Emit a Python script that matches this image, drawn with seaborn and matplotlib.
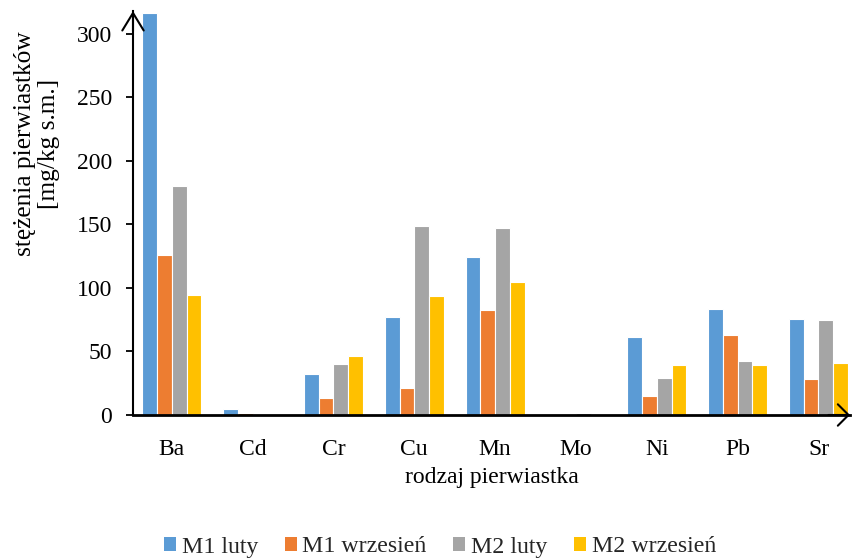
import matplotlib
matplotlib.use("Agg")
import matplotlib.pyplot as plt
import seaborn as sns
import pandas as pd
from matplotlib.patches import Patch

# Element concentrations per sampling point and month
elements = ["Ba", "Cd", "Cr", "Cu", "Mn", "Mo", "Ni", "Pb", "Sr"]
m1_luty = [316.5, 4.5, 32.5, 77.5, 124.5, 0.0, 61.5, 83.5, 75.5]
m1_wrzesien = [126.0, 1.3, 13.2, 21.5, 82.8, 0.0, 15.2, 63.2, 28.2]
m2_luty = [180.0, 0.6, 40.0, 148.5, 146.8, 1.6, 29.0, 42.5, 75.0]
m2_wrzesien = [94.7, 0.2, 46.8, 93.8, 104.5, 0.0, 39.0, 39.0, 40.8]

series_names = ["M1 luty", "M1 wrzesień", "M2 luty", "M2 wrzesień"]
series_values = [m1_luty, m1_wrzesien, m2_luty, m2_wrzesien]
colors = ["#5B9BD5", "#ED7D31", "#A5A5A5", "#FFC000"]

y_ticks = [0, 50, 100, 150, 200, 250, 300]

rows = []
for name, vals in zip(series_names, series_values):
    for el, v in zip(elements, vals):
        rows.append({"element": el, "seria": name, "value": v})
df = pd.DataFrame(rows)

sns.set_theme(style="white")
plt.rcParams["font.family"] = ["Liberation Serif", "DejaVu Serif"]

W, H = 853, 560
fig = plt.figure(figsize=(W / 100, H / 100), dpi=100)
ax_left, ax_right, ax_top, ax_bottom = 133, 850, 11, 415
ax = fig.add_axes([ax_left / W, (H - ax_bottom) / H,
                   (ax_right - ax_left) / W, (ax_bottom - ax_top) / H])

sns.barplot(data=df, x="element", y="value", hue="seria", order=elements,
            hue_order=series_names, palette=colors, width=0.73,
            edgecolor="white", linewidth=0.8, saturation=1, ax=ax,
            legend=False, errorbar=None)

ax.set_xlim(-0.48, 8.39)
ax.set_ylim(0, 318)
ax.set_yticks(y_ticks)
ax.tick_params(axis="y", which="major", direction="out", length=5, width=1.3,
               color="black", labelsize=17, pad=10, left=True)
ax.tick_params(axis="x", length=0, labelsize=17, pad=17)
for lbl in ax.get_xticklabels() + ax.get_yticklabels():
    lbl.set_color("black")

for side in ["top", "right"]:
    ax.spines[side].set_visible(False)
ax.spines["left"].set_color("black")
ax.spines["left"].set_linewidth(1.5)
ax.spines["bottom"].set_color("black")
ax.spines["bottom"].set_linewidth(2.0)
ax.grid(False)

# Open arrowheads at the end of both axes
ax.annotate("", xy=(0, 1.0), xytext=(0, 0.95), xycoords="axes fraction",
            textcoords="axes fraction", annotation_clip=False,
            arrowprops=dict(arrowstyle="->,head_length=0.9,head_width=0.55",
                            lw=1.5, color="black", shrinkA=0, shrinkB=0,
                            mutation_scale=14))
ax.annotate("", xy=(1.0, 0), xytext=(0.97, 0), xycoords="axes fraction",
            textcoords="axes fraction", annotation_clip=False,
            arrowprops=dict(arrowstyle="->,head_length=0.55,head_width=0.55",
                            lw=1.5, color="black", shrinkA=0, shrinkB=0,
                            mutation_scale=14))

ax.set_xlabel("rodzaj pierwiastka", fontsize=17, color="black", labelpad=5)
ax.set_ylabel("")
fig.text(37 / W, 1 - 144 / H, "stężenia pierwiastków\n[mg/kg s.m.]",
         rotation=90, ha="center", va="center", fontsize=18.3,
         multialignment="center", color="black", linespacing=1.1)

handles = [Patch(facecolor=c, edgecolor="none") for c in colors]
fig.legend(handles, series_names, loc="center", ncol=4,
           bbox_to_anchor=(440 / W, 13 / H), frameon=False, fontsize=17.2,
           handlelength=0.5, handleheight=0.5, handletextpad=0.25,
           columnspacing=1.1, borderaxespad=0, borderpad=0)

fig.savefig("out.png", dpi=100)
